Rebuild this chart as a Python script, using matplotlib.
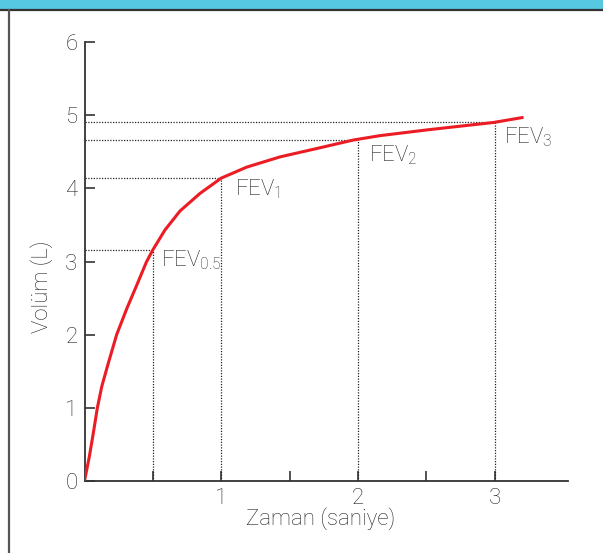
import matplotlib.pyplot as plt
from matplotlib.patches import Rectangle
from matplotlib.lines import Line2D

plt.rcParams['font.family'] = ['Roboto', 'DejaVu Sans']
plt.rcParams['font.weight'] = 'light'
plt.rcParams['mathtext.fontset'] = 'custom'
plt.rcParams['mathtext.rm'] = 'Roboto:light'

# curve (time in s, volume in L)
time_s = [0, 0.035, 0.064, 0.094, 0.126, 0.174, 0.235, 0.31, 0.385, 0.452, 0.5, 0.588,
          0.698, 0.844, 1.0, 1.186, 1.43, 1.70, 1.965, 2.16, 2.51, 2.99, 3.21]
volume_l = [0, 0.33, 0.65, 1.0, 1.29, 1.61, 2.0, 2.36, 2.69, 2.99, 3.16, 3.43,
            3.69, 3.93, 4.14, 4.29, 4.43, 4.545, 4.66, 4.72, 4.80, 4.90, 4.97]

# FEV marker points
fev_t = [0.5, 1, 2, 3]
fev_v = [3.16, 4.14, 4.66, 4.91]
fev_sub = ['0.5', '1', '2', '3']

text_col = '#262626'
red = '#ec1c24'

fig = plt.figure(figsize=(6.03, 5.53), dpi=100)

# header band and left border
fig.patches.append(Rectangle((0, 1 - 10 / 553), 1, 10 / 553, transform=fig.transFigure,
                             facecolor='#56c8e2', edgecolor='none'))
fig.lines.append(Line2D([0, 1], [1 - 10 / 553] * 2, transform=fig.transFigure, color='#333333', lw=1.6))
fig.lines.append(Line2D([8.5 / 603] * 2, [0, 1 - 10 / 553], transform=fig.transFigure, color='#555555', lw=1.6))

ax = fig.add_axes([84.5 / 603, 72 / 553, 483.5 / 603, 439 / 553])
ax.set_xlim(0, 3.535)
ax.set_ylim(0, 6)

for t, v in zip(fev_t, fev_v):
    ax.plot([0, t], [v, v], color='#222222', lw=0.9, ls=(0, (1, 1.2)))
    ax.plot([t, t], [0, v], color='#222222', lw=0.9, ls=(0, (1, 1.2)))

ax.plot(time_s, volume_l, color=red, lw=2.2, solid_joinstyle='round', solid_capstyle='butt', zorder=3)

label_off = [(0.06, -0.14), (0.1, -0.15), (0.08, -0.21), (0.065, -0.21)]
for t, v, s, (dx, dy) in zip(fev_t, fev_v, fev_sub, label_off):
    ax.text(t + dx, v + dy, 'FEV$_\\mathregular{' + s + '}$', fontsize=16, color=text_col,
            ha='left', va='center')

ax.spines['top'].set_visible(False)
ax.spines['right'].set_visible(False)
for sp in ['left', 'bottom']:
    ax.spines[sp].set_color('#333333')
    ax.spines[sp].set_linewidth(1.3)

ax.set_xticks([0.5, 1, 1.5, 2, 2.5, 3])
ax.set_xticklabels(['', '1', '', '2', '', '3'])
ax.set_yticks(range(7))
ax.tick_params(direction='in', length=7, width=1.2, color='#333333', labelcolor=text_col, labelsize=16)
ax.tick_params(axis='x', pad=5)
ax.tick_params(axis='y', pad=5)

fig.text(42 / 603, 1 - 287 / 553, 'Volüm (L)', rotation=90, ha='center', va='center',
         fontsize=16, color=text_col)
fig.text(321 / 603, 1 - 519 / 553, 'Zaman (saniye)', ha='center', va='center',
         fontsize=16, color=text_col)

fig.savefig('out.png', dpi=100)
